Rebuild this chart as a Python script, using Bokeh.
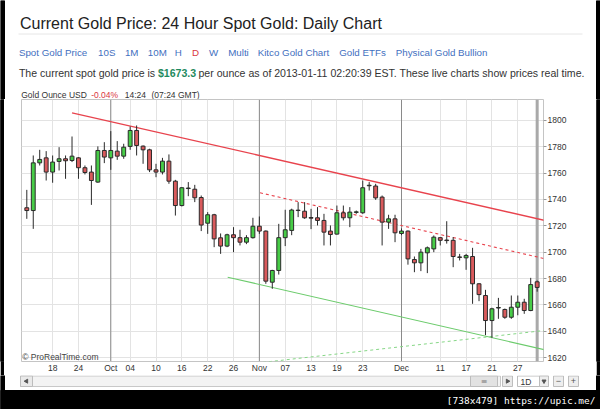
from bokeh.plotting import figure
from bokeh.models import Range1d, FixedTicker, Span, Label, ColumnDataSource
from bokeh.layouts import column, row
from bokeh.core.properties import value
from bokeh.embed import file_html
from bokeh.resources import INLINE

FONT = "Liberation Sans"

# ---------------- data ----------------
opens = [1733.7, 1731.6, 1767.8, 1771.6, 1760.8, 1768.9, 1770.9, 1769.6, 1771.6, 1764.1,
         1760.8, 1753.2, 1777.2, 1771.6, 1776.7, 1772.9, 1780.3, 1792.4, 1780.5, 1777.7,
         1762.5, 1760.8, 1769.1, 1753.9, 1735.4, 1748.3, 1747.8, 1741.5, 1722.0, 1728.4,
         1710.9, 1704.6, 1713.2, 1711.0, 1707.6, 1711.0, 1719.7, 1716.0, 1677.2, 1686.1,
         1711.0, 1716.5, 1731.6, 1731.1, 1726.3, 1726.1, 1724.1, 1716.0, 1713.7, 1729.9,
         1726.1, 1730.2, 1729.9, 1750.4, 1750.2, 1741.8, 1722.8, 1725.3, 1714.2, 1716.0,
         1694.4, 1691.9, 1699.5, 1702.5, 1711.0, 1709.2, 1709.0, 1696.4, 1695.7, 1696.7,
         1676.0, 1667.1, 1648.1, 1657.6, 1656.5, 1650.6, 1658.2, 1662.0, 1655.7, 1677.5]
highs = [1747.3, 1773.4, 1777.7, 1776.7, 1773.4, 1779.7, 1773.4, 1787.8, 1772.2, 1765.8,
         1765.8, 1780.3, 1783.5, 1791.9, 1784.3, 1782.3, 1795.4, 1796.2, 1781.0, 1778.5,
         1767.1, 1771.6, 1774.2, 1754.9, 1749.4, 1753.2, 1751.1, 1743.0, 1730.4, 1729.1,
         1714.2, 1714.0, 1719.0, 1717.0, 1712.9, 1726.1, 1727.1, 1716.5, 1686.6, 1721.5,
         1732.2, 1733.0, 1738.0, 1738.0, 1732.9, 1734.2, 1729.1, 1720.3, 1735.4, 1735.4,
         1734.2, 1731.6, 1754.4, 1753.2, 1751.9, 1743.0, 1728.4, 1728.4, 1718.0, 1716.5,
         1696.7, 1702.5, 1704.3, 1712.7, 1711.4, 1723.5, 1711.4, 1698.7, 1698.7, 1703.3,
         1676.5, 1671.4, 1657.8, 1665.3, 1657.2, 1667.1, 1667.1, 1664.6, 1680.5, 1678.5]
lows = [1725.3, 1717.7, 1765.8, 1754.4, 1752.7, 1762.0, 1755.7, 1768.4, 1755.7, 1759.0,
        1735.9, 1752.7, 1767.6, 1762.5, 1770.1, 1770.9, 1777.7, 1773.4, 1767.1, 1760.8,
        1756.9, 1759.0, 1751.9, 1727.8, 1734.7, 1742.5, 1738.0, 1716.0, 1713.9, 1703.8,
        1698.7, 1703.8, 1700.0, 1705.1, 1706.1, 1710.3, 1713.9, 1676.0, 1672.2, 1683.0,
        1704.6, 1712.9, 1726.6, 1725.3, 1717.5, 1720.3, 1705.1, 1705.1, 1713.4, 1724.1,
        1719.0, 1729.1, 1729.1, 1746.8, 1739.7, 1705.1, 1717.7, 1707.6, 1712.9, 1690.5,
        1684.8, 1685.6, 1684.1, 1700.0, 1705.1, 1706.5, 1688.6, 1693.7, 1686.6, 1660.8,
        1662.8, 1637.0, 1635.0, 1649.4, 1649.4, 1649.4, 1652.1, 1653.2, 1655.2, 1670.0]
closes = [1731.6, 1767.8, 1770.4, 1760.8, 1768.4, 1770.9, 1769.4, 1772.9, 1764.1, 1760.5,
          1754.4, 1777.2, 1772.2, 1777.2, 1772.9, 1779.7, 1792.4, 1781.0, 1777.7, 1762.5,
          1760.8, 1769.1, 1753.9, 1735.4, 1748.9, 1748.7, 1741.3, 1720.6, 1728.4, 1710.1,
          1704.6, 1713.2, 1711.0, 1707.6, 1711.0, 1719.7, 1716.0, 1678.0, 1686.1, 1711.0,
          1717.0, 1732.0, 1731.9, 1726.1, 1725.8, 1724.1, 1715.2, 1713.4, 1729.9, 1726.1,
          1730.4, 1730.6, 1748.9, 1750.8, 1741.2, 1722.8, 1725.3, 1714.7, 1716.0, 1694.9,
          1691.9, 1700.0, 1703.3, 1711.4, 1709.0, 1708.8, 1696.7, 1696.0, 1697.5, 1676.0,
          1667.8, 1648.1, 1657.0, 1658.0, 1650.6, 1658.2, 1662.0, 1655.7, 1675.4, 1673.23]

tick_idx = [4, 8, 13, 16, 20, 24, 28, 32, 36, 40, 44, 48, 52, 58, 64, 68, 72, 76]
tick_labels = ["18", "24", "Oct", "04", "10", "16", "22", "26", "Nov", "07", "13", "19",
               "23", "Dec", "11", "17", "21", "27"]
month_idx = [13, 36, 58]
y_ticks = [1620, 1640, 1660, 1680, 1700, 1720, 1740, 1760, 1780, 1800]

res_x = [7.0, 80.2]
res_y = [1805.8, 1724.1]
res2_x = [36.1, 80.2]
res2_y = [1745.1, 1695.0]
sup_x = [31.1, 80.2]
sup_y = [1681.0, 1625.9]
sup2_x = [34.7, 80.2]
sup2_y = [1615.3, 1640.6]

last_price = 1673.23

# -------------- helpers ---------------
def blank(h, y0, y1):
    f = figure(width=600, height=h, x_range=Range1d(0, 600), y_range=Range1d(y1, y0),
               output_backend="svg", toolbar_location=None, min_border=0,
               x_axis_type=None, y_axis_type=None)
    f.grid.visible = False
    f.outline_line_color = None
    f.background_fill_color = "white"
    f.border_fill_color = "white"
    return f

def txt(f, x, y, t, color="#333333", size="10px", bold=False, align="left",
        baseline="alphabetic", font=FONT):
    f.text(x=[x], y=[y], text=[t], text_color=color, text_font_size=size,
           text_font=value(font), text_font_style="bold" if bold else "normal",
           text_align=align, text_baseline=baseline)

# -------------- header ----------------
hd = blank(99, 0, 99)
hd.quad(left=[0, 596], right=[4, 600], top=[0, 0], bottom=[99, 99], color="black")
txt(hd, 19.5, 23, "Current Gold Price: 24 Hour Spot Gold: Daily Chart", "#222222", "16px")
hd.segment(x0=[18], y0=[33.5], x1=[582], y1=[33.5], line_color="#e6e6e6", line_width=1)

links = ["Spot Gold Price", "10S", "1M", "10M", "H", "D", "W", "Multi",
         "Kitco Gold Chart", "Gold ETFs", "Physical Gold Bullion"]
links_x = [18.4, 97.6, 124.4, 147.3, 174.2, 191.4, 208.6, 227.7, 257.2, 338.7, 395.3]
links_c = ["#3f6fc0"] * len(links)
links_c[5] = "#d9363e"
hd.text(x=links_x, y=[51.5] * len(links), text=links, text_color=links_c,
        text_font_size="9.75px", text_font=value(FONT), text_baseline="alphabetic")

txt(hd, 18.4, 72.7, "The current spot gold price is", "#333333", "10.57px")
txt(hd, 157.4, 72.7, "$1673.3", "#1f8a5e", "10.57px", bold=True)
txt(hd, 198.0, 72.7, "per ounce as of 2013-01-11 02:20:39 EST. These live charts show prices real time.",
    "#333333", "10.57px")

txt(hd, 20.7, 94.8, "Gold Ounce USD", "#333333", "8.5px")
txt(hd, 90.7, 94.8, "-0.04%", "#d9363e", "8.5px")
txt(hd, 124.3, 94.8, "14:24", "#333333", "8.5px")
txt(hd, 151.0, 94.8, "(07:24 GMT)", "#333333", "8.5px")

# -------------- main chart -------------
idx = list(range(len(opens)))
tops = [max(o, c) for o, c in zip(opens, closes)]
bots = [min(o, c) for o, c in zip(opens, closes)]
cols = ["#47cc47" if c >= o else "#d95a5c" for o, c in zip(opens, closes)]
src = ColumnDataSource(dict(x=idx, o=opens, h=highs, l=lows, c=closes, t=tops, b=bots, col=cols))

p = figure(width=592, height=276, x_range=Range1d(-0.82, 79.98), y_range=Range1d(1617.0, 1815.9),
           y_axis_location="right", output_backend="svg", toolbar_location=None,
           min_border_left=17, min_border_right=53, min_border_top=0, min_border_bottom=14)
p.background_fill_color = "white"
p.border_fill_color = "white"
p.outline_line_color = "#c4c4c4"

p.xaxis.ticker = FixedTicker(ticks=tick_idx)
p.xaxis.major_label_overrides = {i: l for i, l in zip(tick_idx, tick_labels)}
p.yaxis.ticker = FixedTicker(ticks=y_ticks)
for ax in (p.xaxis[0], p.yaxis[0]):
    ax.axis_line_color = None
    ax.minor_tick_line_color = None
    ax.minor_tick_out = 0
    ax.minor_tick_in = 0
    ax.major_label_text_font = FONT
    ax.major_label_text_font_size = "8.5px"
    ax.major_label_text_color = "#333333"
p.xaxis.major_tick_line_color = None
p.xaxis.major_tick_out = 0
p.xaxis.major_tick_in = 0
p.xaxis.major_label_standoff = 1
p.yaxis.major_tick_line_color = "#999999"
p.yaxis.major_tick_out = 3
p.yaxis.major_tick_in = 0
p.yaxis.major_label_standoff = 1
p.grid.grid_line_color = "#e3e3e3"

for m in month_idx:
    p.add_layout(Span(location=m, dimension="height", line_color="#8a8a8a", line_width=1, level="underlay"))
p.add_layout(Span(location=idx[-1], dimension="height", line_color="#a9a9a9", line_width=3, level="underlay"))

p.line(sup2_x, sup2_y, line_color="#86d686", line_width=1, line_dash="3 3")
p.line(sup_x, sup_y, line_color="#6ccb6c", line_width=1.1)
p.line(res2_x, res2_y, line_color="#e8434d", line_width=1.1, line_dash="3 3")
p.line(res_x, res_y, line_color="#e8434d", line_width=1.3)

p.segment(x0="x", y0="l", x1="x", y1="h", source=src, line_color="#2a2a2a", line_width=1)
p.vbar(x="x", width=0.6, top="t", bottom="b", source=src, fill_color="col", line_color="#2a2a2a", line_width=1)

p.add_layout(Label(x=-0.72, y=1620.2, text="\u00a9 ProRealTime.com", text_font=FONT,
                   text_font_size="8.5px", text_color="#444444", text_baseline="middle"))
p.add_layout(Label(x=79.98, y=last_price, text=f"{last_price:.2f}", text_font=FONT,
                   text_font_size="8.5px", text_color="#222222", text_baseline="middle",
                   x_offset=2, background_fill_color="#f6c443", border_line_color="#e3a81c",
                   padding=1))

def side():
    s = figure(width=4, height=276, x_range=Range1d(0, 1), y_range=Range1d(0, 1),
               output_backend="svg", toolbar_location=None, min_border=0,
               x_axis_type=None, y_axis_type=None)
    s.grid.visible = False
    s.outline_line_color = None
    s.background_fill_color = "black"
    s.border_fill_color = "black"
    s.quad(left=[0], right=[1], top=[1], bottom=[0], color="black")
    return s

mid = row(side(), p, side(), spacing=0)

# -------------- footer ----------------
ft = blank(34, 375, 409)
ft.quad(left=[0, 596], right=[4, 600], top=[375, 375], bottom=[409, 409], color="black")
ft.quad(left=[20], right=[500], top=[375.5], bottom=[386], fill_color="#f3f3f3", line_color="#c8c8c8")
ft.quad(left=[20, 470, 502, 517, 539, 553, 568], right=[32, 497, 512, 548, 548, 563, 578],
        top=[375.5] * 7, bottom=[386] * 7,
        fill_color=["#e9e9e9", "#e2e2e2", "#e9e9e9", "#ffffff", "#eeeeee", "#eeeeee", "#eeeeee"],
        line_color="#bdbdbd")
ft.scatter(x=[26, 507, 543.5], y=[380.7, 380.7, 380.7], marker="triangle", size=4,
           angle=[1.5708, -1.5708, 3.14159], color="#555555")
txt(ft, 483.5, 380.7, "\u2261", "#777777", "8px", align="center", baseline="middle", font="DejaVu Sans")
txt(ft, 520, 381, "1D", "#333333", "8.5px", baseline="middle")
txt(ft, 558, 380.7, "\u2212", "#555555", "9px", align="center", baseline="middle")
txt(ft, 573, 380.7, "+", "#555555", "9px", align="center", baseline="middle")
ft.quad(left=[0], right=[600], top=[390], bottom=[409], color="black")
txt(ft, 595, 399.5, "[738x479] https://upic.me/", "#ffffff", "9.5px", align="right",
    baseline="middle", font="DejaVu Sans Mono")

layout = column(hd, mid, ft, spacing=0)
open("out.html", "w").write(file_html(layout, INLINE))
